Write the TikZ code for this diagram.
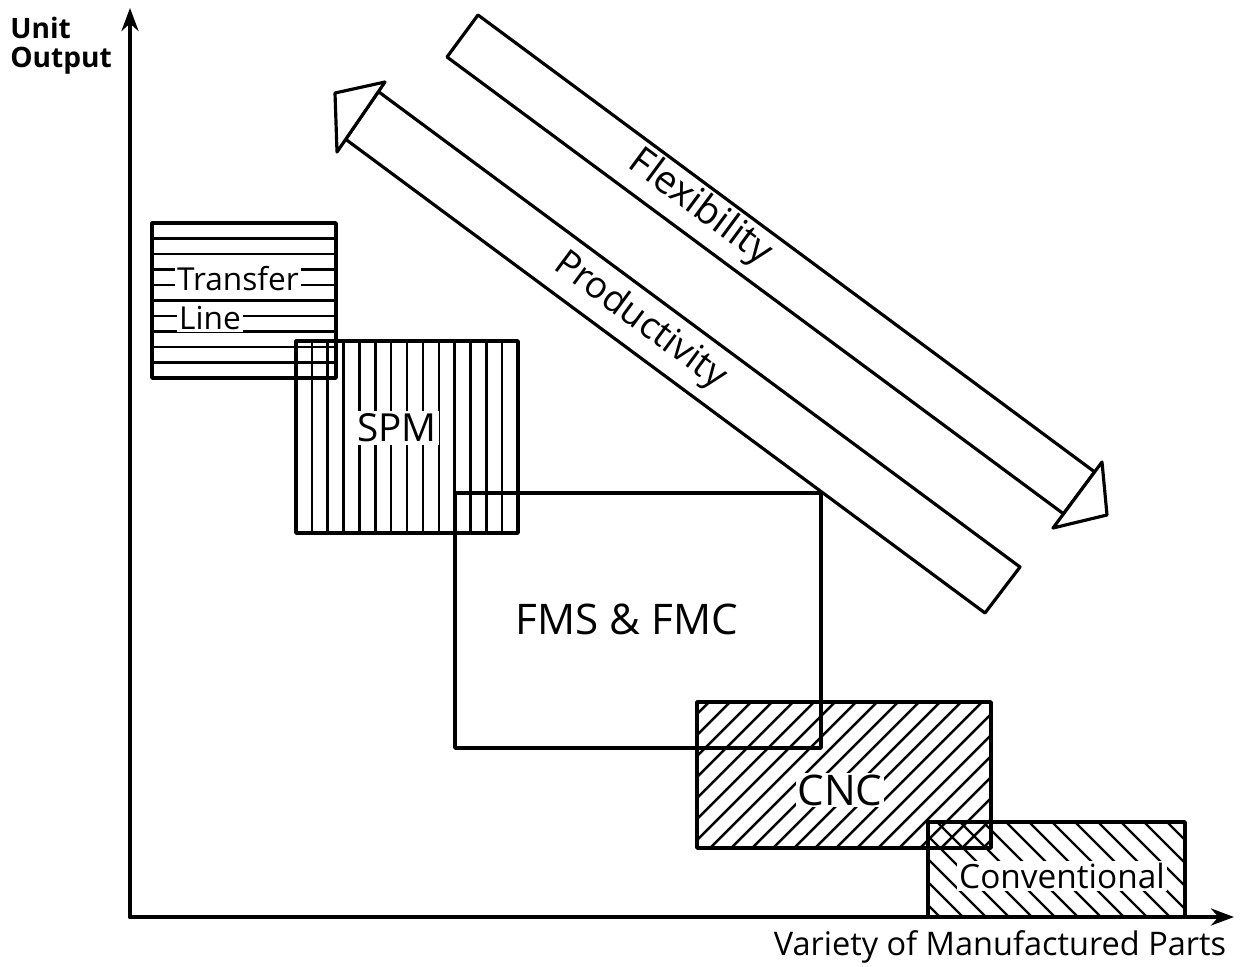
\documentclass[tikz,border=0pt]{standalone}
\usepackage{fontspec}
\setmainfont{Open Sans}
\usetikzlibrary{arrows.meta}
\begin{document}
\begin{tikzpicture}[x=0.02cm,y=-0.02cm,line join=round,line cap=round,
  boxline/.style={line width=2pt},
  hatch/.style={line width=1.4pt},
  bigarrow/.style={line width=1.8pt,fill=white},
  axisline/.style={line width=2.2pt,-{Stealth[length=0.46cm,width=0.34cm]}},
  lbl/.style={fill=white,inner sep=1.5pt},
  fs/.style={font=\fontsize{#1}{#1}\selectfont}]
\useasboundingbox (0,0) rectangle (1241,967);

% axes
\coordinate (O) at (130,917);
\coordinate (Ytip) at (130,8);
\coordinate (Xtip) at (1234,917);
\draw[axisline] (O) -- (Ytip);
\draw[axisline] (O) -- (Xtip);
\node[anchor=base west,inner sep=0pt,font=\bfseries\fontsize{16pt}{16pt}\selectfont] (unit) at (10,38) {Unit};
\node[anchor=base west,inner sep=0pt,font=\bfseries\fontsize{16pt}{16pt}\selectfont] (output) at (10,67) {Output};
\node[anchor=base,inner sep=0pt,fs=18.5pt] (variety) at (1000,955) {Variety of Manufactured Parts};

% Transfer line hatching (horizontal)
\begin{scope}
\clip (152,223) rectangle (336,378);
\foreach \k in {1,...,9} \draw[hatch] (150,223+15.5*\k) -- (340,223+15.5*\k);
\end{scope}
% SPM hatching (vertical)
\begin{scope}
\clip (296,341) rectangle (518,533);
\foreach \k in {1,...,13} \draw[hatch] (296+15.86*\k,339) -- (296+15.86*\k,535);
\end{scope}
% CNC hatching
\begin{scope}
\clip (697,702) rectangle (991,848);
\foreach \c in {530,551,...,1000} \draw[hatch] (\c,860) -- (\c+170,690);
\end{scope}
% Conventional hatching
\begin{scope}
\clip (928,822) rectangle (1185,917);
\foreach \c in {810,833,...,1200} \draw[hatch] (\c,810) -- (\c+117,927);
\end{scope}

% boxes
\draw[boxline] (152,223) rectangle (336,378);
\draw[boxline] (296,341) rectangle (518,533);
\draw[boxline] (697,702) rectangle (991,848);
\draw[boxline] (928,822) rectangle (1185,917);
\draw[boxline] (455,493) rectangle (821,748);

% box labels
\node[lbl,fs=18pt,inner sep=1pt] (transfer) at (238,279) {Transfer};
\node[lbl,fs=18pt,inner sep=1pt] (line) at (210,318) {Line};
\node[lbl,fs=22pt] (spm) at (397,428) {SPM};
\node[fs=24pt] (fms) at (627,619) {FMS \& FMC};
\node[lbl,fs=24pt,inner sep=1pt] (cnc) at (840,790) {CNC};
\node[lbl,fs=19pt,inner sep=1pt] (conv) at (1062,876) {Conventional};

% Flexibility arrow
\draw[bigarrow] (478,15) -- (1094.6,471.9) -- (1063.5,513.8) -- (447,57) -- cycle;
\draw[bigarrow] (1102,462) -- (1107,515) -- (1053,528) -- cycle;
% Productivity arrow
\draw[bigarrow] (378.4,91.6) -- (1020,567) -- (985,613) -- (345.7,139.3) -- cycle;
\draw[bigarrow] (385,82) -- (335,93) -- (337,152) -- cycle;

\node[fs=22pt,rotate=-36.5] (flex) at (700,208) {Flexibility};
\node[fs=21pt,rotate=-36.5] (prod) at (640,321) {Productivity};
\end{tikzpicture}
\end{document}
